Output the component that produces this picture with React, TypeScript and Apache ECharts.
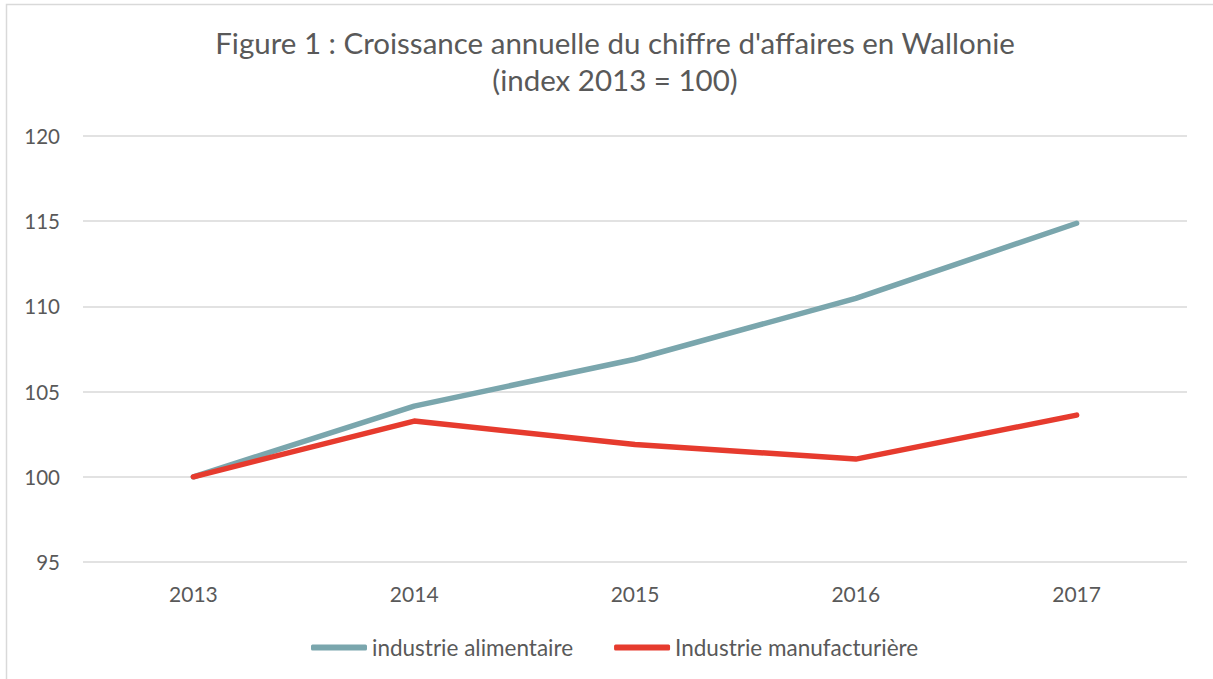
import React, { useEffect, useRef } from "react";
import * as echarts from "echarts";

const years = ["2013", "2014", "2015", "2016", "2017"];
const alimentaire = [100, 104.15, 106.9, 110.47, 114.88];
const manufacturiere = [100, 103.27, 101.9, 101.04, 103.62];
const seriesNames = ["industrie alimentaire", "Industrie manufacturière"];
const titleText = "Figure 1 : Croissance annuelle du chiffre d'affaires en Wallonie\n(index 2013 = 100)";

const FONT = "Lato";
const TEXT = "#595959";

export default function App() {
  const ref = useRef<HTMLDivElement>(null);
  useEffect(() => {
    const chart = echarts.init(ref.current!, null, { renderer: "svg" });
    chart.setOption({
      animation: false,
      backgroundColor: "#ffffff",
      title: {
        text: titleText,
        left: 610,
        top: 19,
        textAlign: "center",
        textStyle: { fontFamily: FONT, fontSize: 29.5, fontWeight: "normal", color: TEXT, lineHeight: 37 },
      },
      graphic: [
        {
          type: "rect",
          shape: { x: 6.5, y: 4.5, width: 1300, height: 800 },
          style: { fill: "none", stroke: "#d9d9d9", lineWidth: 1.5 },
          silent: true,
        },
      ],
      legend: {
        left: 306,
        top: 631,
        icon: "roundRect",
        itemWidth: 56,
        itemHeight: 6,
        itemGap: 41,
        textStyle: { fontFamily: FONT, fontSize: 22.5, color: TEXT },
        data: seriesNames,
      },
      grid: { left: 83, right: 26, top: 136, bottom: 117, containLabel: false },
      xAxis: {
        type: "category",
        data: years,
        boundaryGap: true,
        axisLine: { show: false },
        axisTick: { show: false },
        axisLabel: { fontFamily: FONT, fontSize: 21, color: TEXT, margin: 21 },
      },
      yAxis: {
        type: "value",
        min: 95,
        max: 120,
        interval: 5,
        axisLine: { show: false },
        axisTick: { show: false },
        axisLabel: { fontFamily: FONT, fontSize: 20.5, color: TEXT, margin: 23 },
        splitLine: { lineStyle: { color: "#d9d9d9", width: 1.5 } },
      },
      series: [
        {
          name: seriesNames[0],
          type: "line",
          data: alimentaire,
          symbol: "none",
          color: "#7aa6ad",
          lineStyle: { width: 5.5, color: "#7aa6ad", cap: "round", join: "round" },
        },
        {
          name: seriesNames[1],
          type: "line",
          data: manufacturiere,
          symbol: "none",
          color: "#e63b2e",
          lineStyle: { width: 5.5, color: "#e63b2e", cap: "round", join: "round" },
        },
      ],
    });
    return () => chart.dispose();
  }, []);
  return <div ref={ref} style={{ position: "fixed", left: 0, top: 0, width: 1213, height: 679 }} />;
}
